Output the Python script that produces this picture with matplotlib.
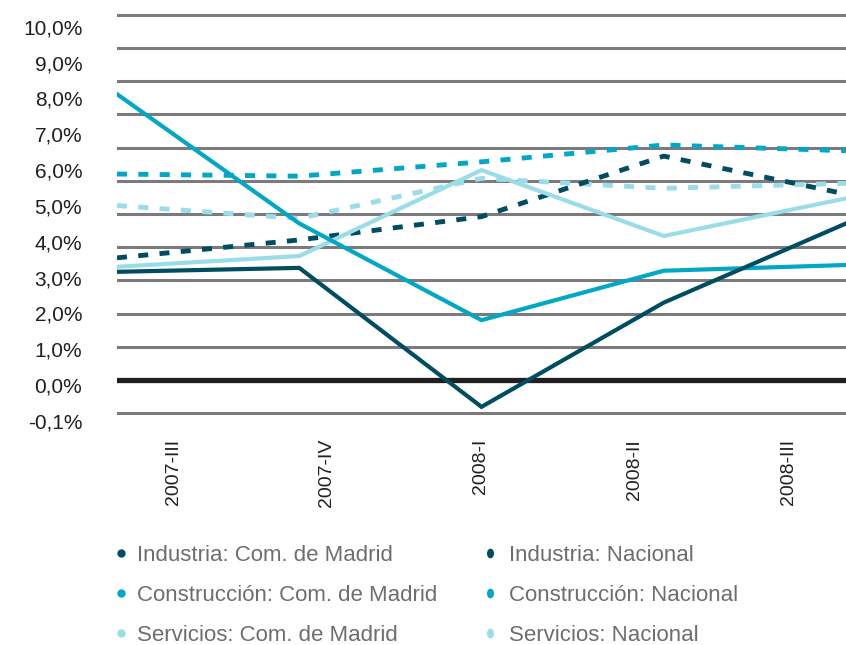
import matplotlib
matplotlib.use("Agg")
import matplotlib.pyplot as plt
from matplotlib.lines import Line2D
from matplotlib.path import Path
from matplotlib.transforms import Affine2D
from matplotlib.legend_handler import HandlerTuple

plt.rcParams['font.family'] = ['Liberation Sans', 'DejaVu Sans']

# ---------------- data ----------------
quarters = ["2007-III", "2007-IV", "2008-I", "2008-II", "2008-III"]
y_tick_values = [10, 9, 8, 7, 6, 5, 4, 3, 2, 1, 0, -1]
y_tick_labels = ["10,0%", "9,0%", "8,0%", "7,0%", "6,0%", "5,0%", "4,0%",
                 "3,0%", "2,0%", "1,0%", "0,0%", "-0,1%"]

industria_madrid = [3.16, 3.27, -0.61, 2.30, 4.51]
construccion_madrid = [8.12, 4.51, 1.81, 3.19, 3.35]
servicios_madrid = [3.30, 3.60, 6.00, 4.16, 5.21]
industria_nacional = [3.55, 4.05, 4.70, 6.39, 5.33]
construccion_nacional = [5.89, 5.83, 6.23, 6.70, 6.54]
servicios_nacional = [5.01, 4.65, 5.77, 5.49, 5.63]

labels_madrid = ["Industria: Com. de Madrid", "Construcción: Com. de Madrid",
                 "Servicios: Com. de Madrid"]
labels_nacional = ["Industria: Nacional", "Construcción: Nacional",
                   "Servicios: Nacional"]

# ---------------- style ----------------
C_IND = "#004d61"
C_CON = "#00a8c6"
C_SER = "#9adde8"
GRID = "#7b7b7e"
ZERO = "#231f20"
TXT = "#231f20"
LEG_TXT = "#6d6e71"

W, H = 846, 645
fig = plt.figure(figsize=(W / 100, H / 100), dpi=100)

top_px, bot_px, left_px, right_px = 10, 425, 117, 846
pos = [left_px / W, 1 - bot_px / H, (right_px - left_px) / W, (bot_px - top_px) / H]

# grid / category-label axes (background)
axg = fig.add_axes(pos)
axg.set_ylim((380 - bot_px) / 33.19, (380 - top_px) / 33.19)
axg.set_yticks(range(-1, 12))
axg.yaxis.grid(True, color=GRID, lw=2.2)
axg.tick_params(axis='y', length=0, labelleft=False)
axg.axhline(0, color=ZERO, lw=3.8, zorder=3)
axg.set_xlim((left_px - 173) / 153.75, (right_px - 173) / 153.75)
axg.set_xticks(range(len(quarters)))
axg.set_xticklabels(quarters, rotation=90, fontsize=14, color=TXT,
                    va='top', ha='center')
axg.tick_params(axis='x', length=0, pad=10)
for s in axg.spines.values():
    s.set_visible(False)
axg.set_axisbelow(True)

# data axes (foreground)
ax = fig.add_axes(pos)
ax.patch.set_visible(False)
ax.set_xlim(0, len(quarters) - 1)
ax.set_ylim((385 - bot_px) / 35.82, (385 - top_px) / 35.82)
ax.set_xticks([])
ax.set_yticks(y_tick_values)
ax.set_yticklabels(y_tick_labels, fontsize=15, color=TXT)
ax.tick_params(axis='y', length=0, pad=25)
for s in ax.spines.values():
    s.set_visible(False)

x = range(len(quarters))
dash = (2.06, 2.33)
ax.plot(x, servicios_nacional, color=C_SER, lw=3.5, dashes=dash)
ax.plot(x, construccion_nacional, color=C_CON, lw=3.5, dashes=dash)
ax.plot(x, industria_nacional, color=C_IND, lw=3.5, dashes=dash)
ax.plot(x, servicios_madrid, color=C_SER, lw=3.0, solid_joinstyle='miter')
ax.plot(x, construccion_madrid, color=C_CON, lw=3.0, solid_joinstyle='miter')
ax.plot(x, industria_madrid, color=C_IND, lw=3.0, solid_joinstyle='miter')

# ---------------- legends ----------------
ellipse = Affine2D().scale(0.72, 1.0).transform_path(Path.unit_circle())

def dot(c):
    return Line2D([], [], ls='', marker='o', ms=6, color=c, mew=0)

def split_dot(c):
    return (Line2D([], [], ls='', marker=ellipse, ms=7, color=c, mew=0),
            Line2D([], [], ls='', marker='|', ms=7, mec='white', mew=1.3))

colors = [C_IND, C_CON, C_SER]
leg_kw = dict(frameon=False, fontsize=16, labelcolor=LEG_TXT, loc='upper left',
              handlelength=0.6, handletextpad=0.4, borderpad=0, borderaxespad=0,
              labelspacing=0.85, handler_map={tuple: HandlerTuple(ndivide=None)})
fig.legend(handles=[dot(c) for c in colors], labels=labels_madrid,
           bbox_to_anchor=(114.4 / W, 1 - 545 / H), **leg_kw)
fig.legend(handles=[split_dot(c) for c in colors], labels=labels_nacional,
           bbox_to_anchor=(486.4 / W, 1 - 545 / H), **leg_kw)

fig.savefig("out.png", dpi=100)
